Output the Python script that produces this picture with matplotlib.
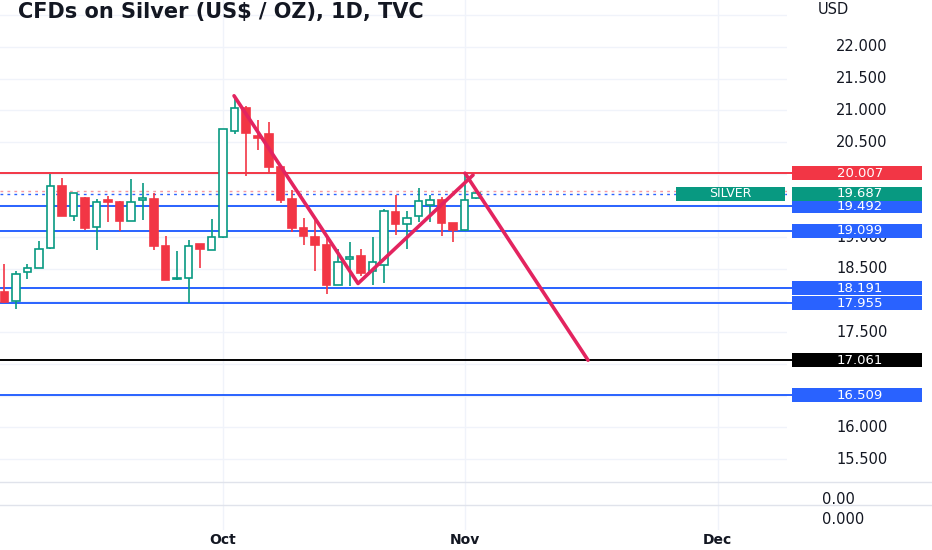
import numpy as np
import pandas as pd
import matplotlib
matplotlib.use("Agg")
import matplotlib.pyplot as plt
from matplotlib.patches import Rectangle
import matplotlib.transforms as mtransforms
from matplotlib.lines import Line2D

# daily candles, TVC silver, Sep 6 - Nov 2 2022
dates = pd.bdate_range("2022-09-06", periods=42)
opens = [18.14, 17.99, 18.45, 18.52, 18.83, 19.80, 19.34, 19.62, 19.16, 19.58,
         19.56, 19.26, 19.58, 19.60, 18.86, 18.34, 18.36, 18.89, 18.80, 19.00,
         20.67, 21.03, 20.60, 20.63, 20.11, 19.61, 19.14, 19.00, 18.88, 18.25,
         18.66, 18.71, 18.47, 18.56, 19.40, 19.21, 19.34, 19.51, 19.58, 19.23,
         19.11, 19.62]
highs = [18.58, 18.47, 18.58, 18.94, 20.00, 19.94, 19.70, 19.64, 19.60, 19.65,
         19.57, 19.92, 19.86, 19.70, 19.02, 18.78, 18.96, 18.90, 19.29, 20.71,
         21.23, 21.07, 20.85, 20.81, 20.12, 19.74, 19.30, 19.30, 19.04, 18.82,
         18.92, 18.82, 19.00, 19.45, 19.67, 19.42, 19.77, 19.66, 19.64, 19.23,
         20.01, 19.72]
lows = [17.96, 17.86, 18.34, 18.52, 18.82, 19.33, 19.26, 19.12, 18.80, 19.24,
        19.09, 19.25, 19.27, 18.80, 18.32, 18.33, 17.97, 18.51, 18.80, 18.99,
        20.63, 19.96, 20.38, 20.01, 19.54, 19.08, 18.88, 18.47, 18.11, 18.24,
        18.23, 18.39, 18.24, 18.27, 19.04, 18.82, 19.24, 19.24, 19.02, 18.92,
        19.10, 19.60]
closes = [17.98, 18.42, 18.52, 18.82, 19.80, 19.34, 19.69, 19.15, 19.56, 19.55,
          19.25, 19.56, 19.62, 18.86, 18.33, 18.36, 18.86, 18.82, 19.00, 20.70,
          21.03, 20.65, 20.56, 20.11, 19.59, 19.15, 19.02, 18.87, 18.25, 18.61,
          18.69, 18.44, 18.61, 19.41, 19.21, 19.30, 19.57, 19.58, 19.23, 19.12,
          19.58, 19.69]

level_prices = [20.007, 19.492, 19.099, 18.191, 17.955, 17.061, 16.509]
level_colors = ['#f23645', '#2962ff', '#2962ff', '#2962ff', '#2962ff', '#000000', '#2962ff']
last_price = 19.687
ask_price = 19.73
tick_prices = [22.0, 21.5, 21.0, 20.5, 19.0, 18.5, 17.5, 16.0, 15.5]
month_names = ['Oct', 'Nov', 'Dec']

# hand drawn pattern lines (bar index, price)
zigzag_x = [19.96, 30.74, 40.74]
zigzag_y = [21.23, 18.27, 19.98]
drop_x = [40.04, 50.74]
drop_y = [20.01, 17.06]

up_col = '#089981'
down_col = '#f23645'
pink = '#e3245f'
txt_col = '#131722'
grid_col = '#f0f3fa'

W, H = 932, 550
fig = plt.figure(figsize=(9.32, 5.5), dpi=100)
ax = fig.add_axes([0, 1 - 482 / H, 787 / W, 482 / H])
pane2 = fig.add_axes([0, 1 - 505 / H, 787 / W, 23 / H])
pane3 = fig.add_axes([0, 1 - 530 / H, 787 / W, 25 / H])

x = np.arange(len(dates))
ax.set_xlim(-0.391, 68.04)
ax.set_ylim(15.139, 22.741)

# month ticks from the business-day calendar
all_days = pd.bdate_range("2022-09-06", "2022-12-31")
month_pos = [i for i in range(1, len(all_days)) if all_days[i].month != all_days[i - 1].month]

for a in (ax, pane2, pane3):
    a.set_xlim(ax.get_xlim())
    for s in a.spines.values():
        s.set_visible(False)
    a.set_yticks([])
    for m in month_pos:
        a.axvline(m, color=grid_col, lw=1, zorder=0)
ax.set_xticks([])
pane2.set_xticks([])
pane3.set_xticks(month_pos)
pane3.set_xticklabels(month_names, fontsize=10, fontweight='bold', color=txt_col)
pane3.tick_params(axis='x', length=0, pad=2)

for g in np.arange(15.5, 23.0, 0.5):
    ax.axhline(g, color=grid_col, lw=1, zorder=0)

# candles
for i in range(len(x)):
    up = closes[i] >= opens[i]
    col = up_col if up else down_col
    ax.vlines(x[i], lows[i], highs[i], color=col, lw=1.2, zorder=3)
    lo = min(opens[i], closes[i])
    hi = max(opens[i], closes[i])
    ax.add_patch(Rectangle((x[i] - 0.34, lo), 0.68, max(hi - lo, 0.02),
                           facecolor='white' if up else col, edgecolor=col,
                           lw=1.2, zorder=4))

trans = mtransforms.blended_transform_factory(ax.transAxes, ax.transData)

# levels
for p, c in zip(level_prices, level_colors):
    ax.plot([0, 792 / 787], [p, p], color=c, lw=1.4, transform=trans, clip_on=False, zorder=2)

ax.axhline(ask_price, color='#f59aa0', lw=1, ls=(0, (2, 3)), zorder=2)
ax.axhline(last_price, color='#2962ff', lw=1, ls=(0, (2, 3)), zorder=2)

# drawings
ax.plot(zigzag_x, zigzag_y, color=pink, lw=2.6, solid_capstyle='round', zorder=5)
ax.plot(drop_x, drop_y, color=pink, lw=2.6, solid_capstyle='round', zorder=5)

# price scale
box_h = 14 / 63.4
for p in tick_prices:
    ax.text(862 / 787, p, '{:.3f}'.format(p), transform=trans, ha='center', va='center',
            fontsize=10.5, color=txt_col, clip_on=False, zorder=1)

def price_box(p, c, label):
    ax.add_patch(Rectangle((792 / 787, p - box_h / 2), 130 / 787, box_h, transform=trans,
                           facecolor=c, edgecolor='none', clip_on=False, zorder=6))
    ax.text(860 / 787, p, label, transform=trans, ha='center', va='center',
            fontsize=9.5, color='white', clip_on=False, zorder=7)

for p, c in zip(level_prices, level_colors):
    price_box(p, c, '{:.3f}'.format(p))
price_box(last_price, up_col, '{:.3f}'.format(last_price))

ax.add_patch(Rectangle((676 / 787, last_price - box_h / 2), 109 / 787, box_h, transform=trans,
                       facecolor=up_col, edgecolor='none', clip_on=False, zorder=6))
ax.text(730 / 787, last_price, 'SILVER', transform=trans, ha='center', va='center',
        fontsize=9, color='white', zorder=7)

# separators between panes
for yy in (482, 505):
    fig.add_artist(Line2D([0, 1], [1 - yy / H, 1 - yy / H], transform=fig.transFigure,
                          color='#e0e3eb', lw=1))

fig.text(822 / W, 1 - 500 / H, '0.00', fontsize=10.5, color=txt_col, va='center')
fig.text(822 / W, 1 - 520 / H, '0.000', fontsize=10.5, color=txt_col, va='center')
fig.text(818 / W, 1 - 10 / H, 'USD', fontsize=10.5, color=txt_col, va='center')

fig.text(18 / W, 1 - 12 / H, 'CFDs on Silver (US$ / OZ), 1D, TVC', fontsize=15,
         fontweight='bold', color=txt_col, va='center')

fig.savefig('out.png', dpi=100, facecolor='white')
